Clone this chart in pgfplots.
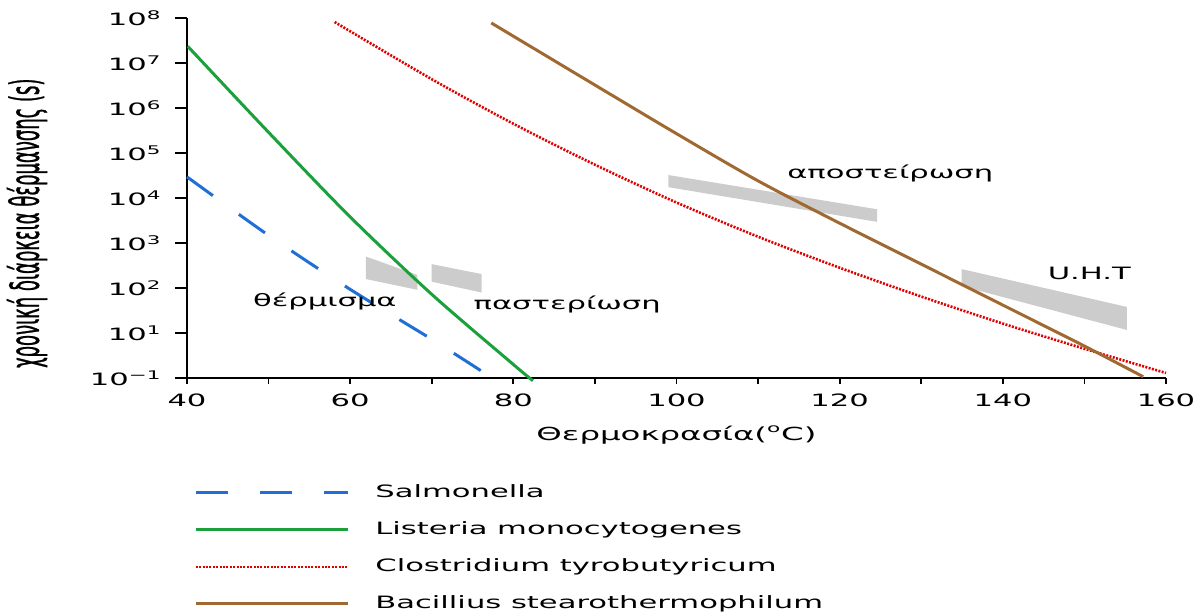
\documentclass[border=0pt]{standalone}
\usepackage{fontspec}
\setmainfont{DejaVu Sans}[FakeStretch=1.8]
\newfontfamily\ylabfont{DejaVu Sans}[FakeStretch=0.9, FakeBold=1.2]
\usepackage{pgfplots}
\pgfplotsset{compat=1.18}

\definecolor{salblue}{RGB}{31,111,214}
\definecolor{listgreen}{RGB}{28,160,60}
\definecolor{closred}{RGB}{225,0,0}
\definecolor{bacbrown}{RGB}{160,105,50}
\definecolor{patchgray}{RGB}{204,204,204}

\begin{document}
\begin{tikzpicture}
\begin{axis}[
    name=ax,
    scale only axis, width=489.5pt, height=180pt,
    xmin=40, xmax=160, ymin=1, ymax=1e8, ymode=log,
    axis lines=left, axis line style={-, line width=0.9pt},
    clip=false,
    xtick={40,60,...,160}, minor x tick num=1,
    ytick={1,10,100,1000,1e4,1e5,1e6,1e7,1e8},
    yticklabels={10\textsuperscript{−1},10\textsuperscript{1},10\textsuperscript{2},10\textsuperscript{3},
                 10\textsuperscript{4},10\textsuperscript{5},10\textsuperscript{6},10\textsuperscript{7},10\textsuperscript{8}},
    yminorticks=false,
    tick align=outside,
    tick style={black, line width=0.9pt},
    xtick style={/pgfplots/major tick length=3pt, /pgfplots/minor tick length=3pt},
    ytick style={/pgfplots/major tick length=6pt},
    ticklabel style={font=\fontsize{8.5}{10}\selectfont},
    yticklabel style={xshift=-5pt},
    /pgf/number format/assume math mode=true,
    legend image code/.code={\draw[#1] (0pt,0pt) -- (76pt,0pt);},
    legend style={at={(rel axis cs:0,0)}, anchor=north west, xshift=3.5pt, yshift=-53pt,
        draw=none, fill=none, inner sep=0pt, row sep=10pt, column sep=13pt,
        font=\fontsize{8.5}{10}\selectfont,
        nodes={inner sep=0pt, text height=6.5pt, text depth=2pt}},
    legend cell align=left,
]
% gray process regions
\addplot[fill=patchgray, draw=none, forget plot] coordinates {(61.94,501) (68.23,195) (68.23,91.2) (61.94,158)} -- cycle;
\addplot[fill=patchgray, draw=none, forget plot] coordinates {(70.0,339) (76.12,204) (76.12,79.4) (70.0,138)} -- cycle;
\addplot[fill=patchgray, draw=none, forget plot] coordinates {(99.0,3.24e4) (124.6,5.62e3) (124.6,2.95e3) (99.0,1.74e4)} -- cycle;
\addplot[fill=patchgray, draw=none, forget plot] coordinates {(134.96,263) (155.2,38.0) (155.2,11.7) (134.96,110)} -- cycle;

% Salmonella
\addplot[salblue, line width=1.5pt, dash pattern=on 16pt off 16pt, smooth] coordinates {
 (40,2.95e4) (50,1479) (60,93.3) (70,7.24) (76.3,1.35)};
\addlegendentry{Salmonella}
% Listeria
\addplot[listgreen, line width=1.5pt, smooth] coordinates {
 (40.1,2.34e7) (50,2.88e5) (60,3802) (70,72.4) (80,2.0) (82.4,0.87)};
\addlegendentry{Listeria monocytogenes}
% Clostridium
\addplot[closred, line width=1.3pt, dash pattern=on 1pt off 0.7pt, smooth] coordinates {
 (58.1,8.13e7) (70,4.37e6) (80,4.47e5) (90,5.50e4) (100,7943) (110,1380)
 (120,282) (130,64.6) (140,16.2) (150,4.47) (160,1.29)};
\addlegendentry{Clostridium tyrobutyricum}
% Bacillus
\addplot[bacbrown, line width=1.5pt, smooth] coordinates {
 (77.3,7.76e7) (90,3.24e6) (100,2.69e5) (110,2.40e4) (120,2754)
 (130,339) (140,41.7) (150,5.13) (157.2,1.07)};
\addlegendentry{Bacillius stearothermophilum}

\node[font=\fontsize{8.5}{10}\selectfont] at (axis cs:56.9,51) {θέρμισμα};
\node[font=\fontsize{8.5}{10}\selectfont] at (axis cs:86.6,43.7) {παστερίωση};
\node[font=\fontsize{8.5}{10}\selectfont] at (axis cs:126.2,3.6e4) {αποστείρωση};
\node[font=\fontsize{8.5}{10}\selectfont] at (axis cs:150.6,215) {U.H.T};

\node[font=\fontsize{9}{10}\selectfont, yshift=-28.5pt] at (rel axis cs:0.5,0) {Θερμοκρασία(\textsuperscript{o}C)};
\node[rotate=90, font=\ylabfont\fontsize{10}{12}\selectfont] at ([xshift=-80pt]rel axis cs:0,0.43)
  {\scalebox{1}[2.0]{χρονική διάρκεια θέρμανσης (s)}};
\end{axis}
\pgfresetboundingbox
\path[use as bounding box] ([xshift=-93.5pt,yshift=-116.5pt]ax.south west) rectangle ([xshift=16.5pt,yshift=9pt]ax.north east);
\end{tikzpicture}
\end{document}
